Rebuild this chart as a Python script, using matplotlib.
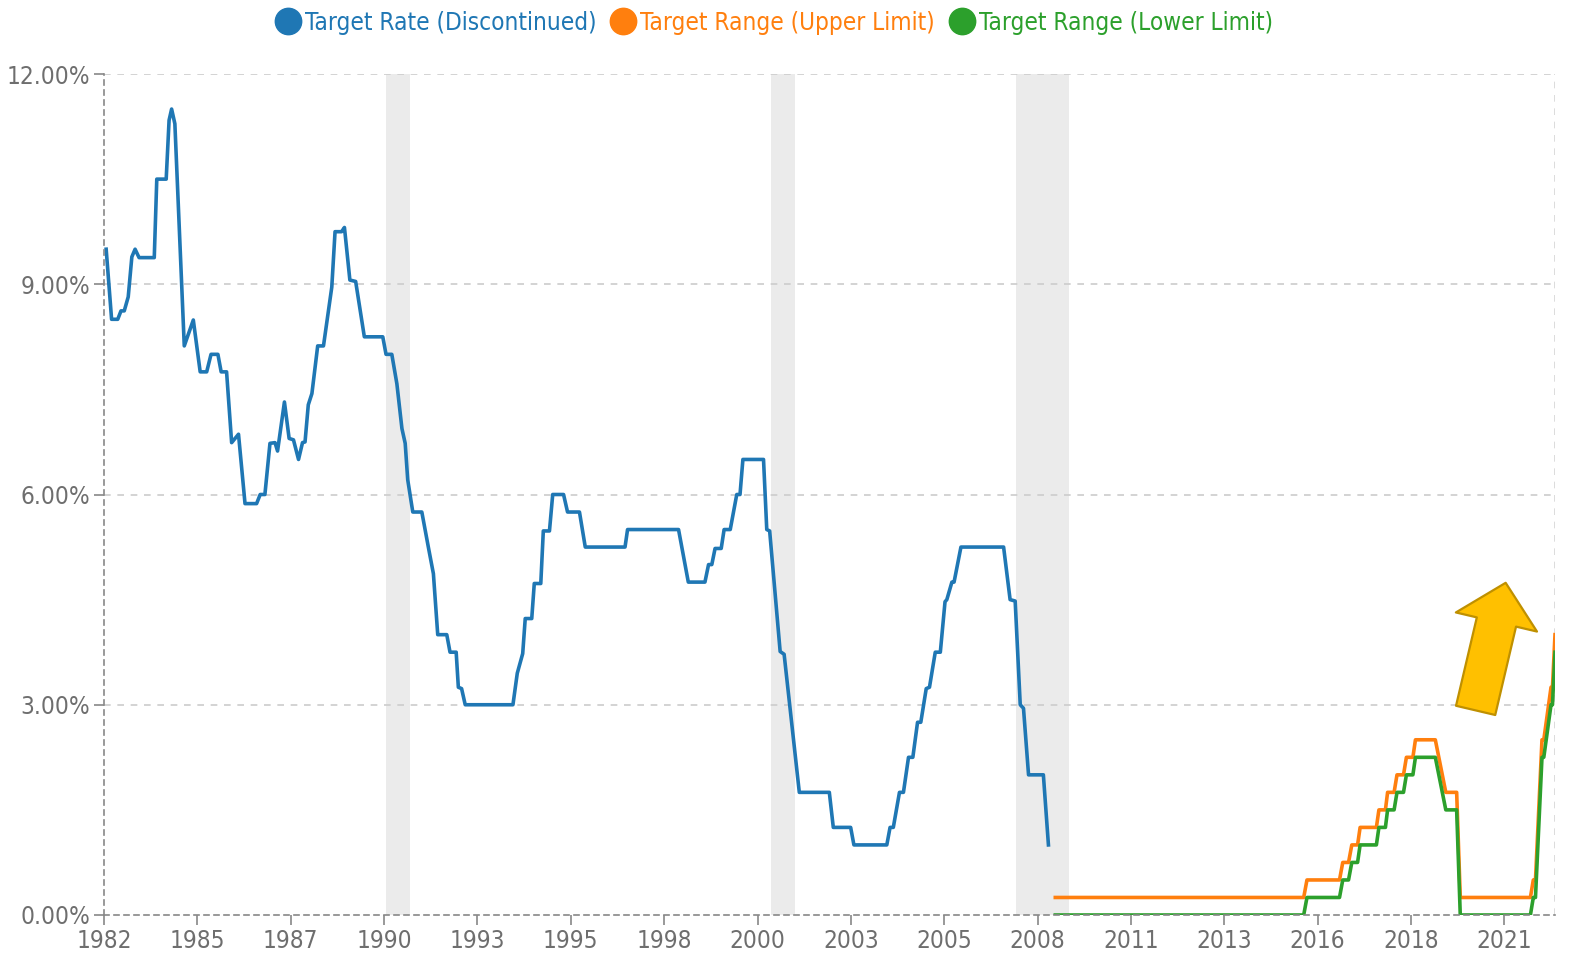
import numpy as np
import matplotlib
matplotlib.use("Agg")
import matplotlib.pyplot as plt
from matplotlib.lines import Line2D

# fonts - narrow sans like the original
plt.rcParams['font.family'] = ['DejaVu Sans']
plt.rcParams['font.stretch'] = 'condensed'

# ---- data (decimal years, percent) ----
blue_x = [1982.80, 1982.95, 1983.12, 1983.21, 1983.30, 1983.41, 1983.51, 1983.60, 1983.71,
          1984.13, 1984.20, 1984.46, 1984.54, 1984.61, 1984.70, 1984.96, 1985.21, 1985.40,
          1985.58, 1985.70, 1985.89, 1985.98, 1986.13, 1986.27, 1986.46, 1986.64, 1986.96,
          1987.06, 1987.19, 1987.33, 1987.47, 1987.54, 1987.73, 1987.86, 1987.98, 1988.12,
          1988.23, 1988.30, 1988.39, 1988.49, 1988.65, 1988.81, 1989.04, 1989.13, 1989.31,
          1989.39, 1989.54, 1989.70, 1989.94, 1990.45, 1990.54, 1990.70, 1990.84, 1990.98,
          1991.07, 1991.14, 1991.28, 1991.53, 1991.71, 1991.85, 1991.97, 1992.22, 1992.31,
          1992.48, 1992.54, 1992.63, 1992.73, 1994.05, 1994.17, 1994.32, 1994.39, 1994.57,
          1994.64, 1994.82, 1994.89, 1995.06, 1995.15, 1995.45, 1995.56, 1995.89, 1996.05,
          1997.15, 1997.22, 1998.63, 1998.90, 1999.36, 1999.46, 1999.55, 1999.64, 1999.81,
          1999.89, 2000.06, 2000.24, 2000.33, 2000.41, 2000.98, 2001.07, 2001.15, 2001.44,
          2001.55, 2001.97, 2002.80, 2002.91, 2003.39, 2003.48, 2004.39, 2004.48, 2004.57,
          2004.74, 2004.85, 2004.99, 2005.11, 2005.24, 2005.33, 2005.48, 2005.57, 2005.73,
          2005.87, 2006.00, 2006.05, 2006.19, 2006.25, 2006.44, 2007.62, 2007.80, 2007.94,
          2008.08, 2008.17, 2008.31, 2008.72, 2008.86]
blue_y = [9.50, 8.50, 8.50, 8.62, 8.62, 8.82, 9.39, 9.50, 9.38,
          9.38, 10.50, 10.50, 11.34, 11.50, 11.29, 8.12, 8.49, 7.75,
          7.75, 8.00, 8.00, 7.75, 7.75, 6.74, 6.86, 5.87, 5.87,
          6.00, 6.00, 6.73, 6.74, 6.62, 7.32, 6.80, 6.78, 6.50,
          6.74, 6.75, 7.28, 7.44, 8.12, 8.12, 8.96, 9.75, 9.75,
          9.81, 9.06, 9.04, 8.25, 8.25, 8.00, 8.00, 7.58, 6.94,
          6.73, 6.21, 5.75, 5.75, 5.25, 4.87, 4.00, 4.00, 3.75,
          3.75, 3.25, 3.23, 3.00, 3.00, 3.45, 3.73, 4.23, 4.23,
          4.73, 4.73, 5.48, 5.48, 6.00, 6.00, 5.75, 5.75, 5.25,
          5.25, 5.50, 5.50, 4.75, 4.75, 5.00, 5.00, 5.23, 5.23,
          5.50, 5.50, 6.00, 6.00, 6.50, 6.50, 5.50, 5.48, 3.76,
          3.72, 1.75, 1.75, 1.25, 1.25, 1.00, 1.00, 1.25, 1.25,
          1.75, 1.75, 2.25, 2.25, 2.75, 2.75, 3.23, 3.25, 3.75,
          3.75, 4.47, 4.50, 4.75, 4.75, 5.25, 5.25, 4.50, 4.48,
          3.00, 2.95, 2.00, 2.00, 1.00]

range_x = [2009.05, 2015.92, 2016.01, 2016.91, 2017.00, 2017.16, 2017.25, 2017.41, 2017.48,
           2017.93, 2018.00, 2018.18, 2018.24, 2018.42, 2018.50, 2018.68, 2018.76, 2018.94,
           2019.01, 2019.56, 2019.85, 2020.15, 2020.25, 2022.19, 2022.27, 2022.33, 2022.51,
           2022.56, 2022.76, 2022.80, 2022.87]
upper_y = [0.25, 0.25, 0.50, 0.50, 0.75, 0.75, 1.00, 1.00, 1.25,
           1.25, 1.50, 1.50, 1.75, 1.75, 2.00, 2.00, 2.25, 2.25,
           2.50, 2.50, 1.75, 1.75, 0.25, 0.25, 0.50, 0.50, 2.50,
           2.50, 3.25, 3.25, 4.00]
lower_y = [0.00, 0.00, 0.25, 0.25, 0.50, 0.50, 0.75, 0.75, 1.00,
           1.00, 1.25, 1.25, 1.50, 1.50, 1.75, 1.75, 2.00, 2.00,
           2.25, 2.25, 1.50, 1.50, 0.00, 0.00, 0.25, 0.25, 2.25,
           2.25, 3.00, 3.00, 3.75]

recession_start = [1990.54, 2001.19, 2007.97]
recession_end = [1991.19, 2001.86, 2009.44]

x_tick_labels = ['1982', '1985', '1987', '1990', '1993', '1995', '1998', '2000',
                 '2003', '2005', '2008', '2011', '2013', '2016', '2018', '2021']
y_ticks = [0, 3, 6, 9, 12]
y_tick_labels = ['0.00%', '3.00%', '6.00%', '9.00%', '12.00%']

labels = ['Target Rate (Discontinued)', 'Target Range (Upper Limit)', 'Target Range (Lower Limit)']
colors = ['#1f77b4', '#ff7f0e', '#2ca02c']

# ---- figure ----
fig = plt.figure(figsize=(15.7, 9.57), dpi=100)
ax = fig.add_axes([104 / 1570, 1 - 915 / 957, 1451 / 1570, 841 / 957])

x_start, x_end = 1982.74, 2022.87
ax.set_xlim(x_start, x_end)
ax.set_ylim(0, 12)

for s, e in zip(recession_start, recession_end):
    ax.axvspan(s, e, color='#ebebeb', zorder=0, lw=0)

ax.plot(blue_x, blue_y, color=colors[0], lw=2.6, zorder=3, solid_joinstyle='round')
ax.plot(range_x, upper_y, color=colors[1], lw=2.6, zorder=3, solid_joinstyle='round')
ax.plot(range_x, lower_y, color=colors[2], lw=2.6, zorder=4, solid_joinstyle='round')

# grid
for yv in y_ticks[1:]:
    ax.axhline(yv, color='#cccccc', lw=1.2, ls=(0, (4, 4)), zorder=1)
ax.axvline(x_end, color='#d5d5d5', lw=1.2, ls=(0, (4, 4)), zorder=1)

# spines
for side in ['top', 'right']:
    ax.spines[side].set_visible(False)
for side in ['left', 'bottom']:
    ax.spines[side].set_color('#888888')
    ax.spines[side].set_linestyle((0, (3, 3)))
    ax.spines[side].set_linewidth(1.2)
    ax.spines[side].set_zorder(5)

tick_step = 2.582
ax.set_xticks([x_start + i * tick_step for i in range(len(x_tick_labels))])
ax.set_xticklabels(x_tick_labels)
ax.set_yticks(y_ticks)
ax.set_yticklabels(y_tick_labels)
ax.tick_params(axis='both', colors='#888888', labelcolor='#6e6e6e', labelsize=17.5,
               length=7, width=1.2, pad=3)

# arrow
ax.annotate('', xy=(0.966, 0.395), xytext=(0.9453, 0.2433),
            xycoords='axes fraction', textcoords='axes fraction',
            arrowprops=dict(arrowstyle='simple,head_length=29,head_width=60,tail_width=29',
                            mutation_scale=1, fc='#ffc000', ec='#bf9000', lw=1.6,
                            shrinkA=0, shrinkB=0), zorder=6)

# legend
handles = [Line2D([], [], ls='none', marker='o', markersize=19, color=c) for c in colors]
fig.legend(handles, labels, loc='center', bbox_to_anchor=(0.494, 0.976), ncol=3,
           frameon=False, fontsize=17.5, handlelength=0.8, handletextpad=0.3,
           columnspacing=0.7, labelcolor=colors, borderpad=0)

fig.savefig('out.png', dpi=100)
